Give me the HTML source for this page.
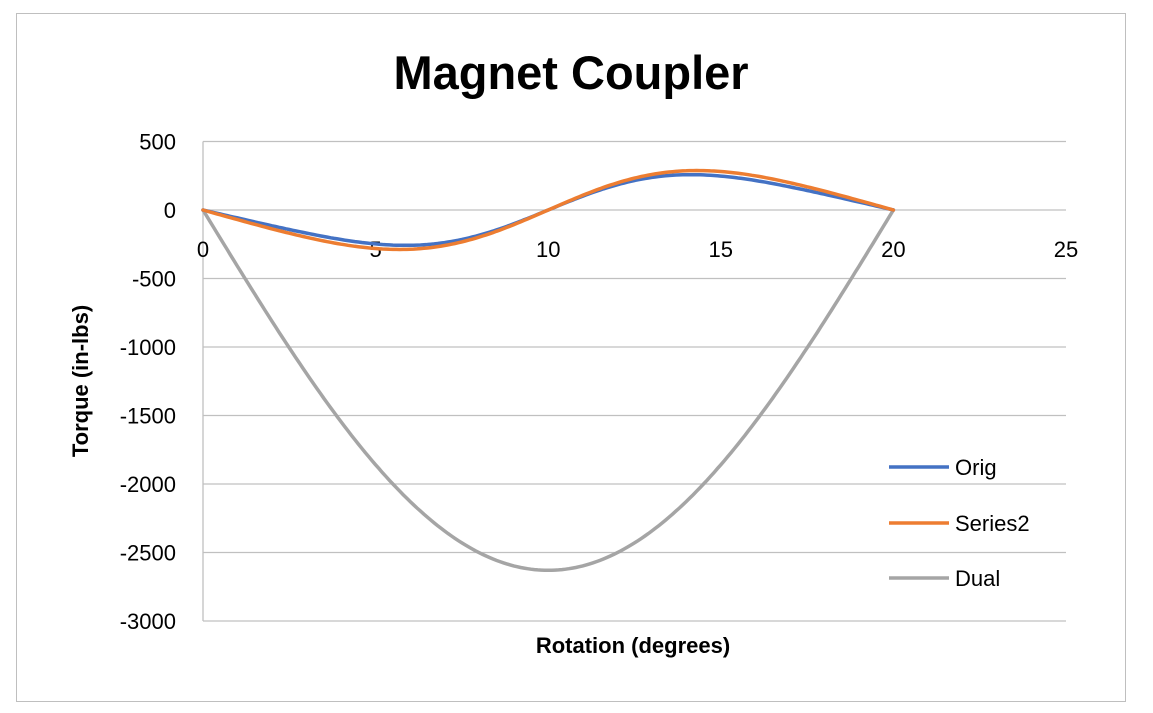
<!DOCTYPE html>
<html><head><meta charset="utf-8"><style>
body{margin:0;background:#fff;}
svg{display:block;font-family:"Liberation Sans","DejaVu Sans",sans-serif;}
</style></head><body>
<svg id="s" width="1153" height="713" viewBox="0 0 1153 713">
<rect x="0" y="0" width="1153" height="713" fill="#fff"/>
<rect x="16.5" y="13.5" width="1109" height="688" fill="#fff" stroke="#bfbfbf" stroke-width="1"/>
<text x="571" y="89" font-size="47" font-weight="bold" text-anchor="middle">Magnet Coupler</text>
<g stroke="#c0c0c0" stroke-width="1.3" id="grid"></g>
<g font-size="22" fill="#000" id="lbl"></g>
<text x="633" y="653" font-size="22" font-weight="bold" text-anchor="middle">Rotation (degrees)</text>
<text transform="translate(88,381) rotate(-90)" font-size="22" font-weight="bold" text-anchor="middle">Torque (in-lbs)</text>
<g fill="none" stroke-width="3.5" stroke-linecap="round" id="ser"></g>
<g stroke-width="3.5">
<line x1="889" y1="467" x2="949" y2="467" stroke="#4472c4"/>
<line x1="889" y1="523" x2="949" y2="523" stroke="#ed7d31"/>
<line x1="889" y1="578" x2="949" y2="578" stroke="#a5a5a5"/>
</g>
<g font-size="22"><text x="955" y="475">Orig</text><text x="955" y="531">Series2</text><text x="955" y="586">Dual</text></g>
</svg>
<script>
var NS="http://www.w3.org/2000/svg";
function X(v){return 203+v*34.52;}
function Y(v){return 210-v*0.137;}
var g=document.getElementById('grid'),l=document.getElementById('lbl'),s=document.getElementById('ser');
function el(p,t,a,txt){var e=document.createElementNS(NS,t);for(var k in a)e.setAttribute(k,a[k]);if(txt!==undefined)e.textContent=txt;p.appendChild(e);return e;}
for(var v=500;v>=-3000;v-=500){var y=Y(v);el(g,'line',{x1:203,x2:1066,y1:y,y2:y});el(l,'text',{x:176,y:y+8,'text-anchor':'end'},String(v));}
el(g,'line',{x1:203,x2:203,y1:Y(500),y2:Y(-3000)});
for(var v=0;v<=25;v+=5){el(l,'text',{x:X(v),y:257,'text-anchor':'middle'},v);}
function path(f,c){var d='';for(var i=0;i<=200;i++){var x=i/10;d+=(i?'L':'M')+X(x).toFixed(1)+','+Y(f(x)).toFixed(1);}el(s,'path',{d:d,stroke:c});}
path(function(x){return -2630*Math.sin(Math.PI*x/20);},'#a5a5a5');
path(function(x){var t=x-0.9*Math.sin(Math.PI*x/10);return -258*Math.sin(Math.PI*t/10);},'#4472c4');
path(function(x){var t=x-0.7*Math.sin(Math.PI*x/10);return -288*Math.sin(Math.PI*t/10);},'#ed7d31');
</script>
</body></html>
